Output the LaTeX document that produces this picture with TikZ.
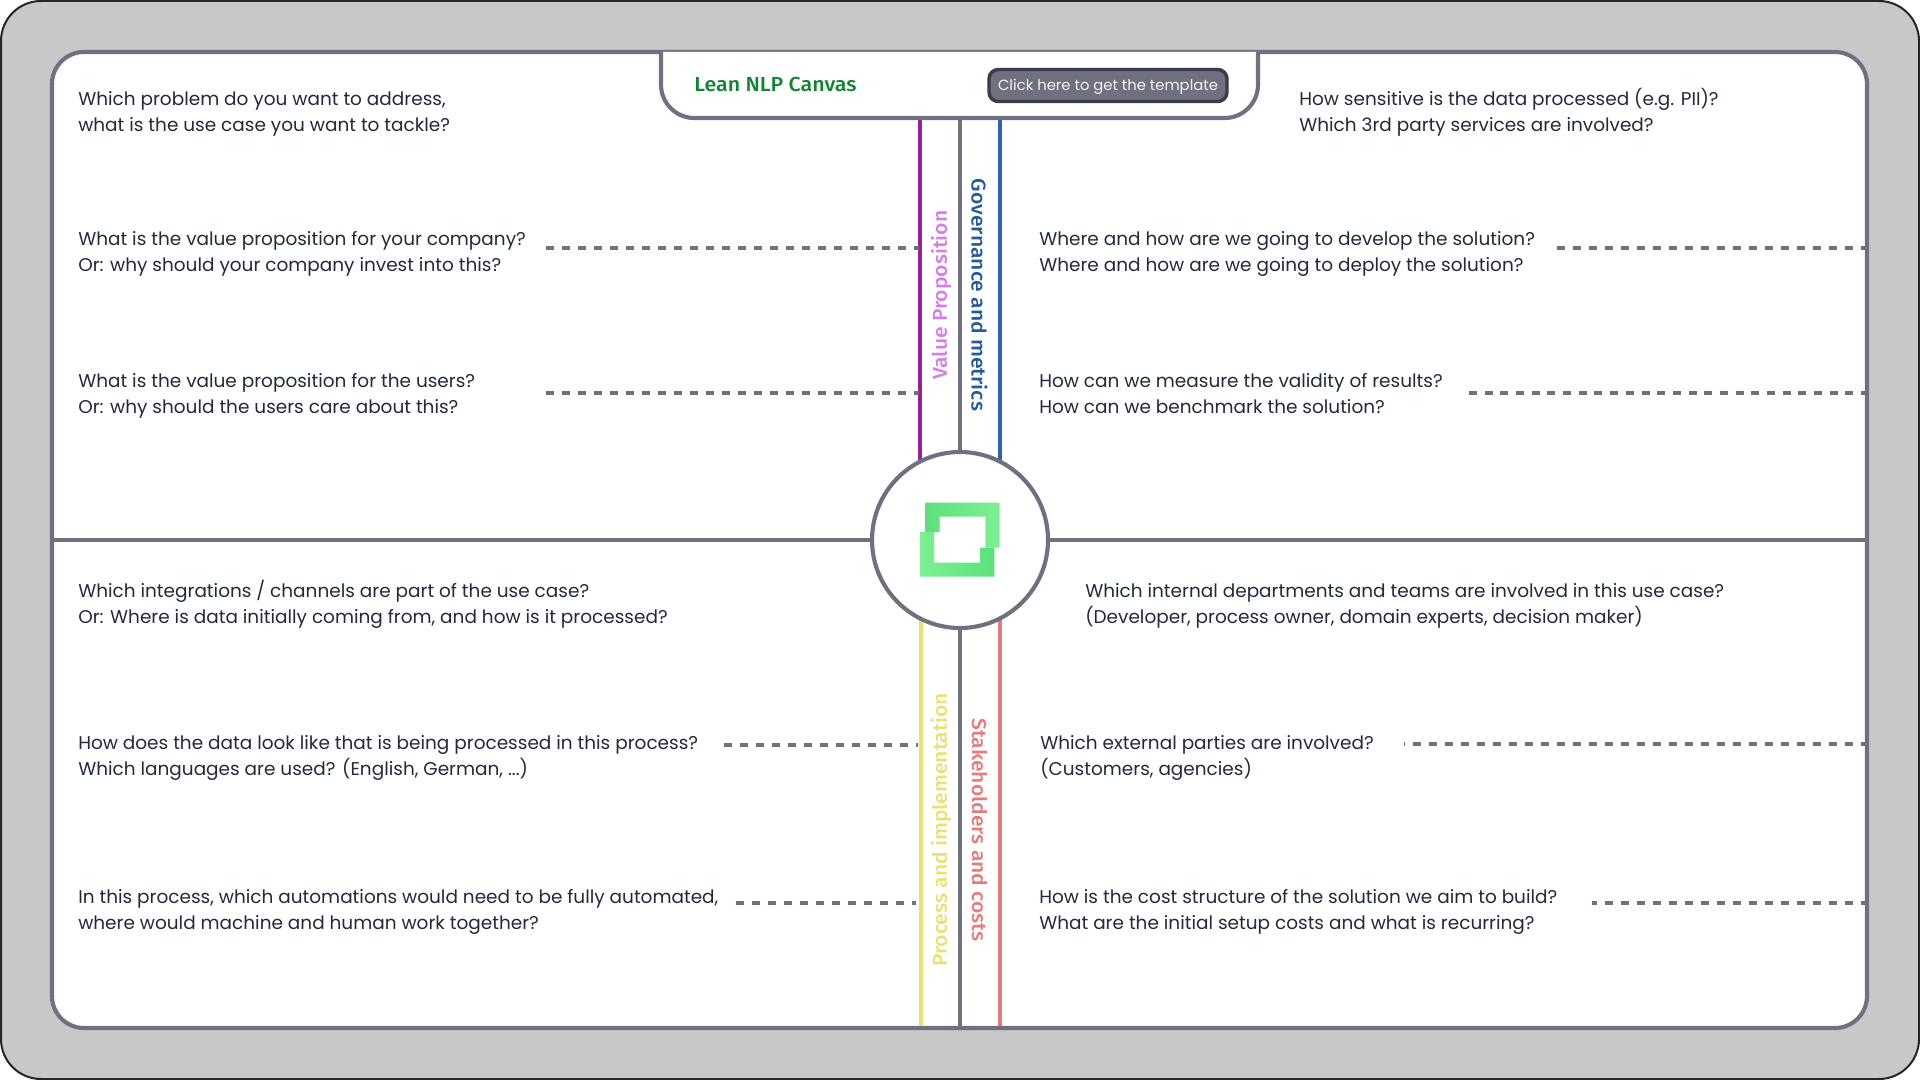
\documentclass[tikz,border=0pt]{standalone}
\usepackage{fontspec}
\setmainfont{Poppins}
\newfontfamily\medfont[FakeStretch=1.055]{Fira Sans Medium}
\definecolor{frameg}{HTML}{6F7180}
\definecolor{btnedge}{HTML}{3A3C46}
\definecolor{bgg}{HTML}{C8C8C8}
\definecolor{inkc}{HTML}{232A3C}
\definecolor{purp}{HTML}{9B1F9B}
\definecolor{purpt}{HTML}{D67DE8}
\definecolor{blu}{HTML}{2866B5}
\definecolor{blut}{HTML}{235A9E}
\definecolor{yel}{HTML}{E9E270}
\definecolor{redc}{HTML}{E97A7A}
\definecolor{greent}{HTML}{0F8432}
\definecolor{lgA}{HTML}{5CE07C}
\definecolor{lgB}{HTML}{7CF092}
\newcommand{\twolines}[2]{\strut #1\\\strut #2}
\tikzset{
  x=0.75pt,y=-0.75pt,
  txt/.style={anchor=west,align=left,inner sep=0pt,text=inkc,font=\fontsize{13.85}{19.5}\selectfont},
  frame/.style={draw=frameg,line width=3.1pt},
  qline/.style={draw=frameg,line width=3pt,dash pattern=on 6pt off 6pt},
  qlinetight/.style={draw=frameg,line width=3pt,dash pattern=on 6pt off 5.76pt},
  band/.style={line width=3pt},
  vlabel/.style={inner sep=0pt,font=\medfont\fontsize{15}{18}\selectfont},
}
\begin{document}
\begin{tikzpicture}
\useasboundingbox (0,0) rectangle (1920,1080);
\draw[fill=bgg,draw=black!85,line width=1.5pt,rounded corners=30pt] (1,1) rectangle (1919,1079);
\draw[frame,fill=white,rounded corners=24pt] (52,52) rectangle (1867,1028);
% coordinates
\coordinate (hubc) at (960,540);
\coordinate (pT) at (920,118); \coordinate (pB) at (920,470);
\coordinate (gT) at (960,118); \coordinate (gB) at (960,1028);
\coordinate (bT) at (1000,118); \coordinate (bB) at (1000,470);
\coordinate (yT) at (921,610); \coordinate (yB) at (921,1026);
\coordinate (rT) at (1000,610); \coordinate (rB) at (1000,1026);
\coordinate (hL) at (52,540); \coordinate (hR) at (1867,540);
\draw[band,draw=purp] (pT)--(pB);
\draw[band,draw=blu] (bT)--(bB);
\draw[band,draw=yel] (yT)--(yB);
\draw[band,draw=redc] (rT)--(rB);
\draw[frame] (gT)--(gB);
\draw[frame] (hL)--(hR);
% header tab
\draw[frame,fill=white,rounded corners=25pt] (661,52) -- (661,118) -- (1258,118) -- (1258,52);
\node[anchor=base west,inner sep=0pt,text=greent,font=\medfont\fontsize{15.2}{16}\selectfont] (title) at (694,91.5) {Lean NLP Canvas};
\node[draw=btnedge,fill=frameg,line width=2.6pt,rounded corners=7pt,minimum width=178.5pt,minimum height=24pt,inner sep=0pt,text height=10pt,text depth=1.8pt,text=white!92!frameg,font=\fontsize{11.1}{14}\selectfont] (button) at (1108,85.5) {Click here to get the template};
% hub
\node[circle,draw=frameg,fill=white,line width=3.1pt,minimum size=132pt,inner sep=0pt] (hub) at (hubc) {};
\shade[left color=lgA,right color=lgB] (925.7,502.7) -- (999.7,502.7) -- (999.7,547.7) -- (985.3,547.7) -- (985.3,516.7) -- (939.7,516.7) -- (939.7,532) -- (925.7,532) -- cycle;
\shade[left color=lgB,right color=lgA] (920,532) -- (934,532) -- (934,562.7) -- (980,562.7) -- (980,547.7) -- (994.3,547.7) -- (994.3,576.7) -- (920,576.7) -- cycle;
% rotated labels
\node[vlabel,text=purpt,rotate=90] (lvalue) at (941,295) {Value Proposition};
\node[vlabel,text=blut,rotate=-90] (lgov) at (979.5,295) {Governance and metrics};
\node[vlabel,text=yel,rotate=90] (lproc) at (941,830) {Process and implementation};
\node[vlabel,text=redc,rotate=-90] (lstake) at (979.5,830) {Stakeholders and costs};
% questions
\node[txt] (q1) at (78,113) {\twolines{Which problem do you want to address,}{what is the use case you want to tackle?}};
\node[txt] (q2) at (78,253) {\twolines{What is the value proposition for your company?}{Or: why should your company invest into this?}};
\node[txt] (q3) at (78,395) {\twolines{What is the value proposition for the users?}{Or: why should the users care about this?}};
\node[txt] (q4) at (78,605.5) {\twolines{Which integrations / channels are part of the use case?}{Or: Where is data initially coming from, and how is it processed?}};
\node[txt] (q5) at (78,757) {\twolines{How does the data look like that is being processed in this process?}{Which languages are used? (English, German, ...)}};
\node[txt] (q6) at (78,911) {\twolines{In this process, which automations would need to be fully automated,}{where would machine and human work together?}};
\node[txt] (r1) at (1299,113) {\twolines{How sensitive is the data processed (e.g. PII)?}{Which 3rd party services are involved?}};
\node[txt] (r2) at (1039,253) {\twolines{Where and how are we going to develop the solution?}{Where and how are we going to deploy the solution?}};
\node[txt] (r3) at (1039,395) {\twolines{How can we measure the validity of results?}{How can we benchmark the solution?}};
\node[txt] (r4) at (1085,605.5) {\twolines{Which internal departments and teams are involved in this use case?}{(Developer, process owner, domain experts, decision maker)}};
\node[txt] (r5) at (1040,757) {\twolines{Which external parties are involved?}{(Customers, agencies)}};
\node[txt] (r6) at (1039,911) {\twolines{How is the cost structure of the solution we aim to build?}{What are the initial setup costs and what is recurring?}};
% dashed leaders
\coordinate (d1a) at (546,248); \coordinate (d1b) at (919,248);
\coordinate (d2a) at (546,393); \coordinate (d2b) at (919,393);
\coordinate (d3a) at (724,744.7); \coordinate (d3b) at (918,744.7);
\coordinate (d4a) at (736,903); \coordinate (d4b) at (916,903);
\coordinate (d5b) at (1555,247.7); \coordinate (d5a) at (1869,247.7);
\coordinate (d6b) at (1469,392.7); \coordinate (d6a) at (1869,392.7);
\coordinate (d7b) at (1404,744); \coordinate (d7a) at (1869,744);
\coordinate (d8b) at (1592,903); \coordinate (d8a) at (1869,903);
\foreach \n in {1,2,3,4,5,7,8} \draw[qline] (d\n a) -- (d\n b);
\draw[qlinetight] (d6a) -- (d6b);
\end{tikzpicture}
\end{document}
